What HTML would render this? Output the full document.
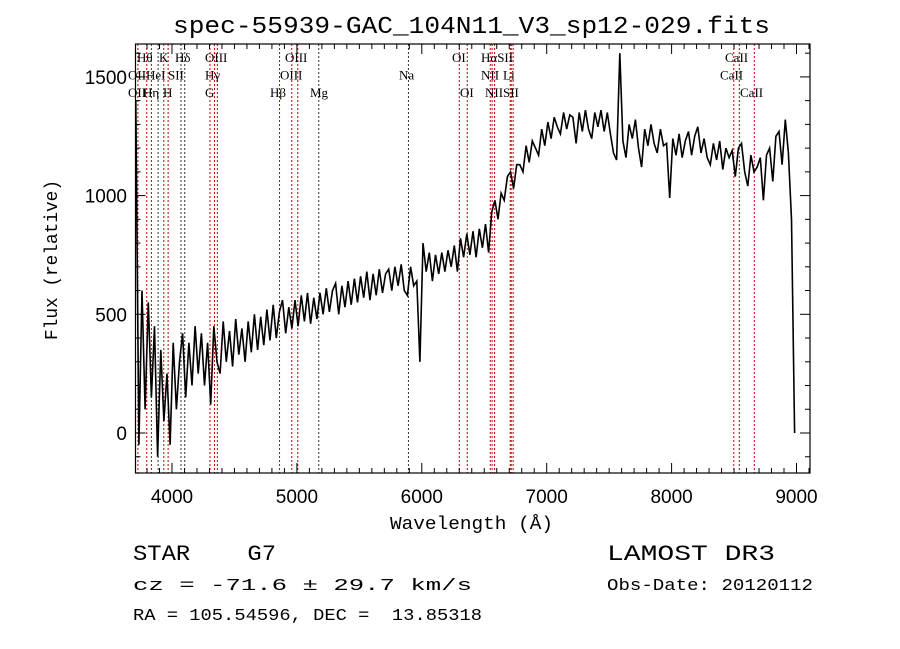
<!DOCTYPE html>
<html><head><meta charset="utf-8"><style>
html,body{margin:0;padding:0;background:#fff;}
svg{display:block;}
text{fill:#000;white-space:pre;}
</style></head><body>
<svg id="chart" width="900" height="649" xmlns="http://www.w3.org/2000/svg">
<rect width="900" height="649" fill="#fff"/>
<text x="173" y="33" textLength="597" lengthAdjust="spacingAndGlyphs" font-family="Liberation Mono, monospace" font-size="24">spec-55939-GAC_104N11_V3_sp12-029.fits</text>
<g id="lines"></g>
<g id="labels" font-family="Liberation Serif, serif" font-size="13"></g>
<g id="series"></g>
<g id="axes"></g>
<text x="390" y="529" textLength="163" lengthAdjust="spacingAndGlyphs" font-family="Liberation Mono, monospace" font-size="18">Wavelength (Å)</text>
<text transform="translate(57,340) rotate(-90)" textLength="160" lengthAdjust="spacingAndGlyphs" font-family="Liberation Mono, monospace" font-size="18">Flux (relative)</text>
<text x="133" y="560" textLength="143" lengthAdjust="spacingAndGlyphs" font-family="Liberation Mono, monospace" font-size="22" xml:space="preserve">STAR    G7</text>
<text x="607" y="560" textLength="168" lengthAdjust="spacingAndGlyphs" font-family="Liberation Mono, monospace" font-size="22">LAMOST DR3</text>
<text x="133" y="590" textLength="339" lengthAdjust="spacingAndGlyphs" font-family="Liberation Mono, monospace" font-size="17">cz = -71.6 ± 29.7 km/s</text>
<text x="607" y="590" textLength="206" lengthAdjust="spacingAndGlyphs" font-family="Liberation Mono, monospace" font-size="17">Obs-Date: 20120112</text>
<text x="133" y="620" textLength="349" lengthAdjust="spacingAndGlyphs" font-family="Liberation Mono, monospace" font-size="17" xml:space="preserve">RA = 105.54596, DEC =  13.85318</text>
</svg>
<script>
const wlStart = 3710, wlStep = 25;
const flux = [
1400,-50,600,100,550,150,450,-100,350,50,
250,-50,380,100,300,420,150,380,200,450,
250,420,200,380,120,450,300,250,470,300,
430,280,480,330,440,300,470,340,500,350,
490,370,520,390,540,400,510,560,420,530,
440,560,450,580,470,590,460,570,480,590,
500,610,510,600,630,500,620,530,640,540,
650,550,660,570,680,560,670,580,690,590,
670,690,600,700,620,710,600,580,700,620,
640,300,800,680,760,640,750,670,760,680,
770,700,790,680,820,740,840,750,850,740,
860,780,880,760,930,980,900,1010,980,1080,
1100,1030,1130,1130,1100,1210,1140,1230,1200,1170,
1280,1210,1310,1240,1330,1290,1260,1350,1280,1340,
1330,1220,1350,1270,1360,1280,1240,1350,1290,1360,
1270,1350,1260,1180,1150,1600,1230,1160,1300,1240,
1320,1200,1120,1280,1210,1300,1220,1180,1280,1210,
1220,990,1240,1170,1260,1160,1230,1270,1170,1250,
1290,1180,1240,1160,1130,1220,1150,1230,1110,1200,
1160,1190,1080,1200,1220,1100,1040,1170,1100,1120,
1160,980,1170,1200,1060,1250,1270,1130,1320,1180,
900,0];
const lineWl =    [3727,3798,3835,3889,3934,3969,4072,4102,4304,4340,4363,4861,4959,5007,5175,5893,6300,6364,6548,6563,6583,6708,6716,6731,8498,8542,8662];
const lineColor = ['r','r','r','k','r','r','k','k','r','r','r','r','r','r','k','k','r','r','r','r','r','r','r','r','r','r','r'];
const labelText = ['Hθ','K','Hδ','OIII','OIII','OI','HαSII','CaII','OII','HeI','SII','Hγ','OIII','Na','NII','Li','CaII','OII','Hη','H','G','Hβ','Mg','OI','NII','SII','CaII'];
const labelX =    [137,159,175,205,285,452,481,725,128,146,168,205,280,399,481,503,720,128,143,163,205,270,310,460,485,503,740];
const labelRow =  [0,0,0,0,0,0,0,0,1,1,1,1,1,1,1,1,1,2,2,2,2,2,2,2,2,2,2];
const xTicks = [4000,5000,6000,7000,8000,9000];
const yTicks = [0,500,1000,1500];

const L=135.5,R=810,T=44,B=473;
const xs = w => 172 + (w-4000)*0.1249;
const ys = v => 433 - v*0.2374;
const NS='http://www.w3.org/2000/svg';
function mk(tag, attrs, parent){const e=document.createElementNS(NS,tag);for(const k in attrs)e.setAttribute(k,attrs[k]);parent.appendChild(e);return e;}

const gl=document.getElementById('lines');
lineWl.forEach((w,i)=>{
  const e=mk('line',{x1:xs(w),x2:xs(w),y1:T,y2:B,stroke:lineColor[i]==='r'?'#c00000':'#333','stroke-width':1,'stroke-dasharray':'2,2'},gl);
  
  
});
const glab=document.getElementById('labels');
labelText.forEach((t,i)=>{
  const e=mk('text',{x:labelX[i],y:62+labelRow[i]*17.5},glab);
  e.textContent=t;
  
  
});
const gs=document.getElementById('series');
let pts=flux.map((v,i)=>xs(wlStart+i*wlStep).toFixed(1)+','+Math.max(T,Math.min(B,ys(v))).toFixed(1)).join(' ');
const pl=mk('polyline',{points:pts,fill:'none',stroke:'#000','stroke-width':1.6},gs);



const ga=document.getElementById('axes');
const fr=mk('rect',{x:L,y:T,width:R-L,height:B-T,fill:'none',stroke:'#000','stroke-width':1.2},ga);


for(let w=3800;w<=9100;w+=100){
  const x=xs(w), len=(w%1000===0)?10:5;
  mk('line',{x1:x,x2:x,y1:B,y2:B-len,stroke:'#000'},ga);
  mk('line',{x1:x,x2:x,y1:T,y2:T+len,stroke:'#000'},ga);
}
xTicks.forEach(w=>{
  const e=mk('text',{x:xs(w),y:503,'text-anchor':'middle','font-family':'Liberation Sans, sans-serif','font-size':19},ga);
  e.textContent=w;
  
  
});
for(let v=-100;v<=1600;v+=100){
  const y=ys(v), len=(v%500===0)?10:5;
  mk('line',{x1:L,x2:L+len,y1:y,y2:y,stroke:'#000'},ga);
  mk('line',{x1:R,x2:R-len,y1:y,y2:y,stroke:'#000'},ga);
}
yTicks.forEach(v=>{
  const e=mk('text',{x:127,y:ys(v)+7,'text-anchor':'end','font-family':'Liberation Sans, sans-serif','font-size':19},ga);
  e.textContent=v;
  
  
});
</script>
</body></html>
